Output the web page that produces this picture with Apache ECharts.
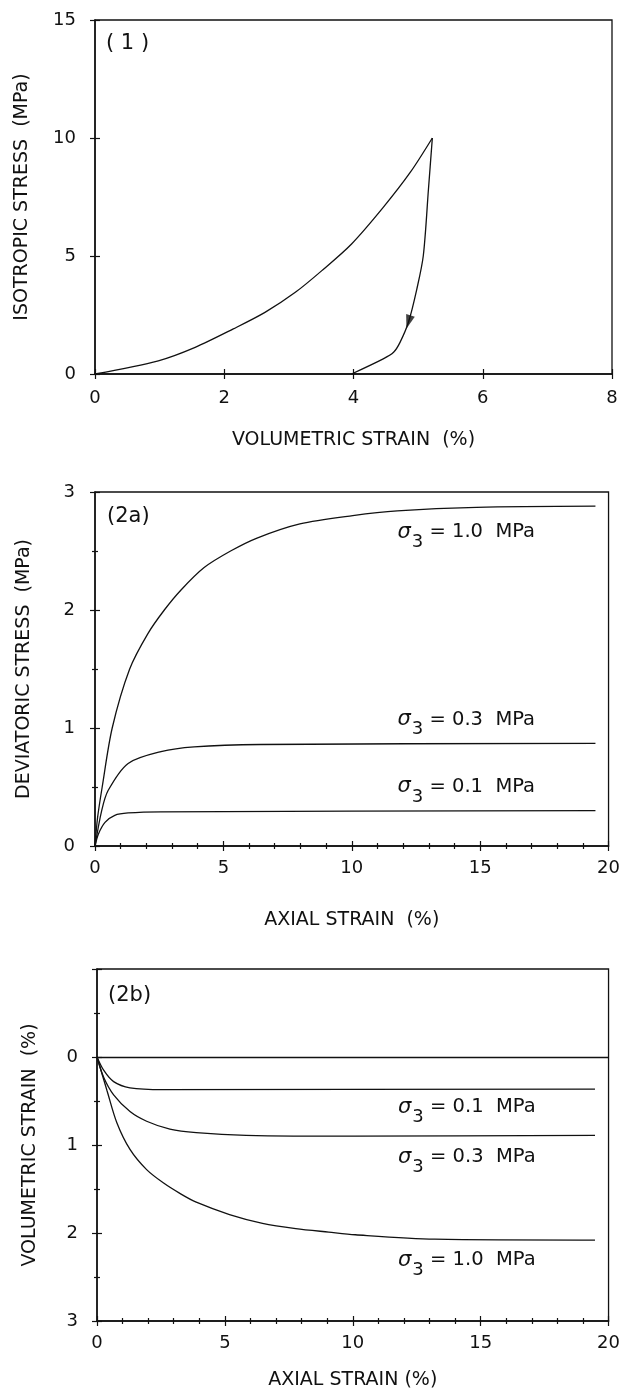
<!DOCTYPE html>
<html>
<head>
<meta charset="utf-8">
<script src="https://cdn.jsdelivr.net/npm/echarts@6/dist/echarts.min.js"></script>
<style>
html, body { margin: 0; padding: 0; background: #fff; }
#chart { width: 623px; height: 1393px; }
</style>
</head>
<body>
<div id="chart"></div>
<script>
// panel (1) isotropic loading / unloading, [volumetric strain %, stress MPa]
const isoLoad = [[0,0],[0.98,0.56],[1.55,1.13],[2.14,1.91],[2.63,2.61],[3.10,3.46],[3.51,4.38],[3.97,5.51],[4.46,7.06],[4.88,8.55],[5.22,10]];
const isoUnload = [[5.22,10],[5.16,7.84],[5.08,5.01],[4.98,3.6],[4.85,2.19],[4.72,1.34],[4.62,0.92],[4.46,0.64],[3.97,0]];
const isoArrow = [[4.85,2.2]];

// panel (2a) deviatoric stress vs axial strain
const dev01 = [[0,0],[0.13,0.1],[0.39,0.2],[0.77,0.26],[1.29,0.28],[2.57,0.29],[19.49,0.3]];
const dev03 = [[0,0],[0.26,0.3],[0.51,0.47],[1.29,0.7],[2.57,0.8],[3.86,0.84],[6.44,0.86],[19.49,0.87]];
const dev10 = [[0,0],[0.1,0.24],[0.28,0.5],[0.67,1.0],[1.35,1.5],[2.06,1.8],[2.7,2.0],[3.35,2.17],[4.25,2.36],[5.28,2.5],[6.31,2.61],[7.98,2.73],[10.04,2.8],[11.77,2.84],[14.86,2.87],[19.49,2.88]];

// panel (2b) volumetric strain vs axial strain
const vol01 = [[0,0],[0.26,0.15],[0.65,0.28],[1.29,0.35],[2.59,0.37],[19.47,0.365]];
const vol03 = [[0,0],[0.26,0.23],[0.65,0.43],[1.29,0.62],[1.94,0.73],[2.85,0.82],[3.88,0.86],[5.83,0.89],[10.1,0.9],[19.47,0.89]];
const vol10 = [[0,0],[0.39,0.38],[0.78,0.75],[1.29,1.05],[1.94,1.28],[2.59,1.43],[3.24,1.55],[3.88,1.65],[5.18,1.79],[6.47,1.89],[7.77,1.95],[9.06,1.99],[10.1,2.02],[13.2,2.07],[19.47,2.08]];

const sigmaValues = ['0.1', '0.3', '1.0'];

const BLACK = '#111';
const FONT = 'DejaVu Sans';

// two overlapping axes per side: one with outward ticks + labels, one with inward ticks
function axisPair(gridIndex, pos, cfg) {
  const tickStyle = { color: BLACK, width: 1.2 };
  const common = {
    gridIndex: gridIndex, type: 'value', position: pos,
    min: cfg.min, max: cfg.max, interval: cfg.interval, inverse: !!cfg.inverse,
    splitLine: { show: false }, minorSplitLine: { show: false }
  };
  const minor = { show: cfg.minor > 0, splitNumber: cfg.minor || 5, length: 3, lineStyle: tickStyle };
  const main = Object.assign({}, common, {
    name: cfg.name, nameLocation: 'middle', nameGap: cfg.nameGap,
    nameTextStyle: { fontFamily: FONT, fontSize: 19, color: BLACK },
    axisLine: { show: true, onZero: false, lineStyle: { color: BLACK, width: 1.5 } },
    axisTick: { show: true, inside: false, length: 5, lineStyle: tickStyle },
    minorTick: minor,
    axisLabel: { fontFamily: FONT, fontSize: 18, color: BLACK, margin: cfg.margin, formatter: cfg.formatter }
  });
  const inner = Object.assign({}, common, {
    axisLine: { show: false, onZero: false },
    axisTick: { show: true, inside: true, length: 5, lineStyle: tickStyle },
    minorTick: minor,
    axisLabel: { show: false }
  });
  return [main, inner];
}

function curve(data, g) {
  return {
    type: 'line', data: data, xAxisIndex: 2 * g, yAxisIndex: 2 * g,
    showSymbol: false, smooth: 0.3,
    lineStyle: { color: BLACK, width: 1.3 }, silent: true
  };
}

function sigmaLabel(value, coord) {
  return {
    symbol: 'circle', symbolSize: 0, silent: true,
    data: [{ coord: coord }],
    label: {
      show: true, position: 'right', distance: 0,
      formatter: '{s|σ}{b|3}{t| = ' + value + '  MPa}',
      rich: {
        s: { fontFamily: FONT, fontStyle: 'italic', fontSize: 21, color: BLACK },
        b: { fontFamily: FONT, fontSize: 18, color: BLACK, padding: [20, 0, 0, 1] },
        t: { fontFamily: FONT, fontSize: 19.5, color: BLACK }
      }
    }
  };
}

const xs = [].concat(
  axisPair(0, 'bottom', { min: 0, max: 8, interval: 2, minor: 0, name: 'VOLUMETRIC STRAIN  (%)', nameGap: 57, margin: 15 }),
  axisPair(1, 'bottom', { min: 0, max: 20, interval: 5, minor: 5, name: 'AXIAL STRAIN  (%)', nameGap: 65, margin: 13 }),
  axisPair(2, 'bottom', { min: 0, max: 20, interval: 5, minor: 5, name: 'AXIAL STRAIN (%)', nameGap: 50, margin: 13 })
);
const ys = [].concat(
  axisPair(0, 'left', { min: 0, max: 15, interval: 5, minor: 0, name: 'ISOTROPIC STRESS  (MPa)', nameGap: 63, margin: 19 }),
  axisPair(1, 'left', { min: 0, max: 3, interval: 1, minor: 2, name: 'DEVIATORIC STRESS  (MPa)', nameGap: 61, margin: 20 }),
  axisPair(2, 'left', { min: -1, max: 3, interval: 1, minor: 2, inverse: true, name: 'VOLUMETRIC STRAIN  (%)', nameGap: 57, margin: 19,
    formatter: function (v) { return v < 0 ? '' : String(v); } })
);

const panelTitle = { fontFamily: FONT, fontSize: 21, fontWeight: 'normal', color: BLACK };

const chart = echarts.init(document.getElementById('chart'), null, { renderer: 'canvas' });
chart.setOption({
  animation: false,
  backgroundColor: '#fff',
  title: [
    { text: '( 1 )', left: 106, top: 33, padding: 0, textStyle: panelTitle },
    { text: '(2a)', left: 107, top: 506, padding: 0, textStyle: panelTitle },
    { text: '(2b)', left: 108, top: 985, padding: 0, textStyle: panelTitle }
  ],
  grid: [
    { left: 95, top: 20, width: 517, height: 354, show: true, borderColor: BLACK, borderWidth: 1.3 },
    { left: 95, top: 492, width: 518, height: 354, show: true, borderColor: BLACK, borderWidth: 1.3 },
    { left: 97, top: 969, width: 515, height: 352, show: true, borderColor: BLACK, borderWidth: 1.3 }
  ],
  xAxis: xs,
  yAxis: ys,
  series: [
    curve(isoLoad, 0),
    curve(isoUnload, 0),
    {
      type: 'scatter', data: isoArrow, xAxisIndex: 0, yAxisIndex: 0,
      symbol: 'triangle', symbolSize: [9, 14], symbolRotate: 163,
      itemStyle: { color: BLACK }, silent: true
    },
    Object.assign(curve(dev01, 1), { markPoint: sigmaLabel(sigmaValues[0], [11.78, 0.5]) }),
    Object.assign(curve(dev03, 1), { markPoint: sigmaLabel(sigmaValues[1], [11.78, 1.07]) }),
    Object.assign(curve(dev10, 1), { markPoint: sigmaLabel(sigmaValues[2], [11.78, 2.66]) }),
    Object.assign(curve(vol01, 2), {
      markPoint: sigmaLabel(sigmaValues[0], [11.77, 0.57]),
      markLine: {
        silent: true, symbol: 'none', label: { show: false },
        lineStyle: { color: BLACK, width: 1.3, type: 'solid' },
        data: [{ yAxis: 0 }]
      }
    }),
    Object.assign(curve(vol03, 2), { markPoint: sigmaLabel(sigmaValues[1], [11.77, 1.14]) }),
    Object.assign(curve(vol10, 2), { markPoint: sigmaLabel(sigmaValues[2], [11.77, 2.31]) })
  ]
});
window.addEventListener('resize', () => { chart.resize(); });
</script>
</body>
</html>
